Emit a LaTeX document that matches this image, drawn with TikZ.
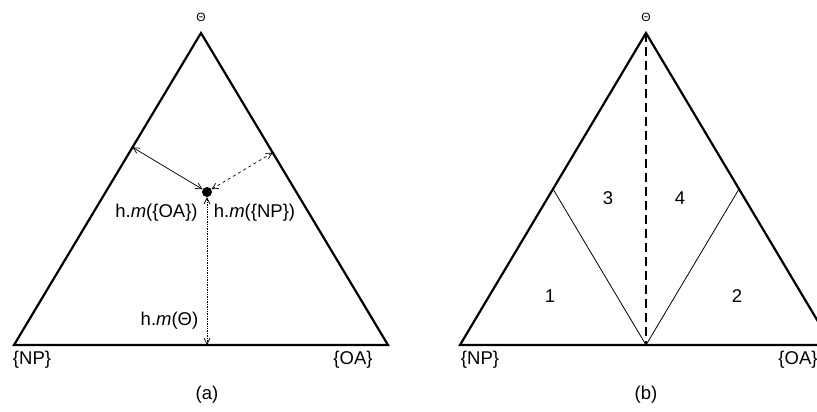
\documentclass[tikz,border=0pt]{standalone}
\usepackage{fontspec}
\setmainfont{Liberation Sans}
\usetikzlibrary{arrows.meta,calc}
\begin{document}
\begin{tikzpicture}[x=1pt,y=-1pt,
  side/.style={line width=2.2pt, line join=miter},
  thinline/.style={line width=0.8pt},
  dim/.style={line width=0.7pt, {Straight Barb[length=6pt,width=6pt]}-{Straight Barb[length=6pt,width=6pt]}},
  lbl/.style={font=\fontsize{18.5}{22}\selectfont, inner sep=1pt},
  toplbl/.style={font=\fontsize{12}{14}\selectfont, inner sep=1pt},
  dotnode/.style={circle, fill=black, inner sep=0pt, minimum size=10pt}]
\useasboundingbox (0,0) rectangle (817,412);
\clip (0,0) rectangle (817,412);
% triangle (a)
\coordinate (aT) at (201,33);
\coordinate (aL) at (14,345);
\coordinate (aR) at (388,345);
\draw[side] (aT) -- (aL) -- (aR) -- cycle;
\node[dotnode] (dot) at (207,192) {};
\coordinate (fL) at (132.5,147.3);
\coordinate (fR) at (272.7,152.6);
\coordinate (fB) at (207,345);
\draw[dim] (fL) -- (dot);
\draw[dim, dashed] (dot) -- (fR);
\draw[dim, densely dotted] (fB) -- (dot.south);
\node[toplbl] (ta) at (201,17) {Θ};
\node[lbl] (oa) at (156.5,213) {h.\textit{m}(\{OA\})};
\node[lbl] (np) at (254.5,213) {h.\textit{m}(\{NP\})};
\node[lbl] (th) at (169.5,321) {h.\textit{m}(Θ)};
\node[lbl] (anp) at (32,360) {\{NP\}};
\node[lbl] (aoa) at (353,360) {\{OA\}};
\node[lbl] (capa) at (207,395) {(a)};
% triangle (b)
\coordinate (bT) at (646,33);
\coordinate (bL) at (460,345);
\coordinate (bR) at (832,345);
\coordinate (bM) at (646,345);
\coordinate (bLm) at ($(bT)!0.5!(bL)$);
\coordinate (bRm) at ($(bT)!0.5!(bR)$);
\draw[side] (bT) -- (bL) -- (bR) -- cycle;
\draw[thinline] (bLm) -- (bM) -- (bRm);
\draw[line width=2.6pt, dash pattern=on 9pt off 5pt] (bT) -- (bM);
\node[toplbl] (tb) at (646,17) {Θ};
\node[lbl] (r1) at (550,296) {1};
\node[lbl] (r2) at (737,296) {2};
\node[lbl] (r3) at (608,198) {3};
\node[lbl] (r4) at (680,198) {4};
\node[lbl] (bnp) at (480,360) {\{NP\}};
\node[lbl] (boa) at (798,360) {\{OA\}};
\node[lbl] (capb) at (646,395) {(b)};
\end{tikzpicture}
\end{document}
